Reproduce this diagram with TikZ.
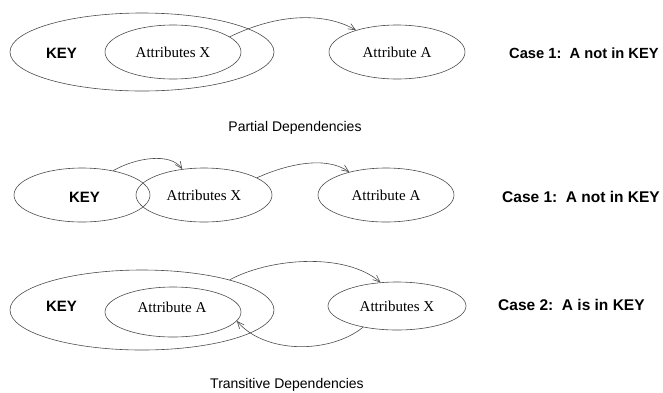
\documentclass[tikz,border=0pt]{standalone}
\usepackage{fontspec}
\setmainfont{Liberation Serif}
\setsansfont{Liberation Sans}
\usetikzlibrary{shapes.geometric,arrows.meta}
\begin{document}
\begin{tikzpicture}[x=1pt,y=-1pt,
  line/.style={draw=black!70,line width=0.6pt},
  oval/.style={ellipse,line,inner sep=0pt,font=\fontsize{15}{15}\selectfont},
  keytext/.style={font=\sffamily\bfseries\fontsize{15}{15}\selectfont,inner sep=0pt},
  casetext/.style={font=\sffamily\bfseries\fontsize{15.5}{15.5}\selectfont,inner sep=0pt,anchor=west},
  caption/.style={font=\sffamily\fontsize{14}{14}\selectfont,inner sep=0pt},
  dep/.style={line,-{Straight Barb[length=7pt,width=6pt]}}]
\useasboundingbox (0,0) rectangle (663,392);

% --- partial dependency, case 1
\node[oval,minimum width=264,minimum height=78] (key1) at (142,52) {};
\node[keytext] (key1t) at (61.5,53) {KEY};
\node[oval,minimum width=136,minimum height=54] (x1) at (173,52) {Attributes X};
\node[oval,minimum width=136,minimum height=54] (a1) at (397,52) {Attribute A};
\node[casetext,font=\sffamily\bfseries\fontsize{14.7}{14.7}\selectfont] (c1) at (509,53) {Case 1:\ \ A not in KEY};
\draw[dep] (x1.15) .. controls (285,10) and (330,15) .. (a1.152);
\node[caption] (cap1) at (295,128) {Partial Dependencies};

% --- transitive dependency, case 1
\node[oval,minimum width=136,minimum height=54] (key2) at (82,195) {};
\node[keytext] (key2t) at (84.5,197) {KEY};
\node[oval,minimum width=136,minimum height=54] (x2) at (204,195) {Attributes X};
\node[oval,minimum width=136,minimum height=54] (a2) at (386,195) {Attribute A};
\node[casetext] (c2) at (502,197) {Case 1:\ \ A not in KEY};
\draw[dep] (key2.38) .. controls (135,158) and (170,152) .. (x2.130);
\draw[dep] (x2.18) .. controls (285,165) and (325,155) .. (a2.148);

% --- transitive dependency, case 2
\node[oval,minimum width=264,minimum height=80] (key3) at (142,310) {};
\node[keytext] (key3t) at (61.5,306) {KEY};
\node[oval,minimum width=136,minimum height=50] (a3) at (173,312) {};
\node[font=\fontsize{15}{15}\selectfont,inner sep=0pt] (a3t) at (172,307) {Attribute A};
\node[oval,minimum width=138,minimum height=48] (x3) at (397,306) {Attributes X};
\node[casetext] (c3) at (498,305) {Case 2:\ \ A is in KEY};
\draw[dep] (key3.19) .. controls (270,258) and (345,252) .. (x3.125);
\draw[dep] (x3.212) .. controls (330,354) and (265,354) .. (a3.-8);
\node[caption] (cap2) at (287,385) {Transitive Dependencies};
\end{tikzpicture}
\end{document}
